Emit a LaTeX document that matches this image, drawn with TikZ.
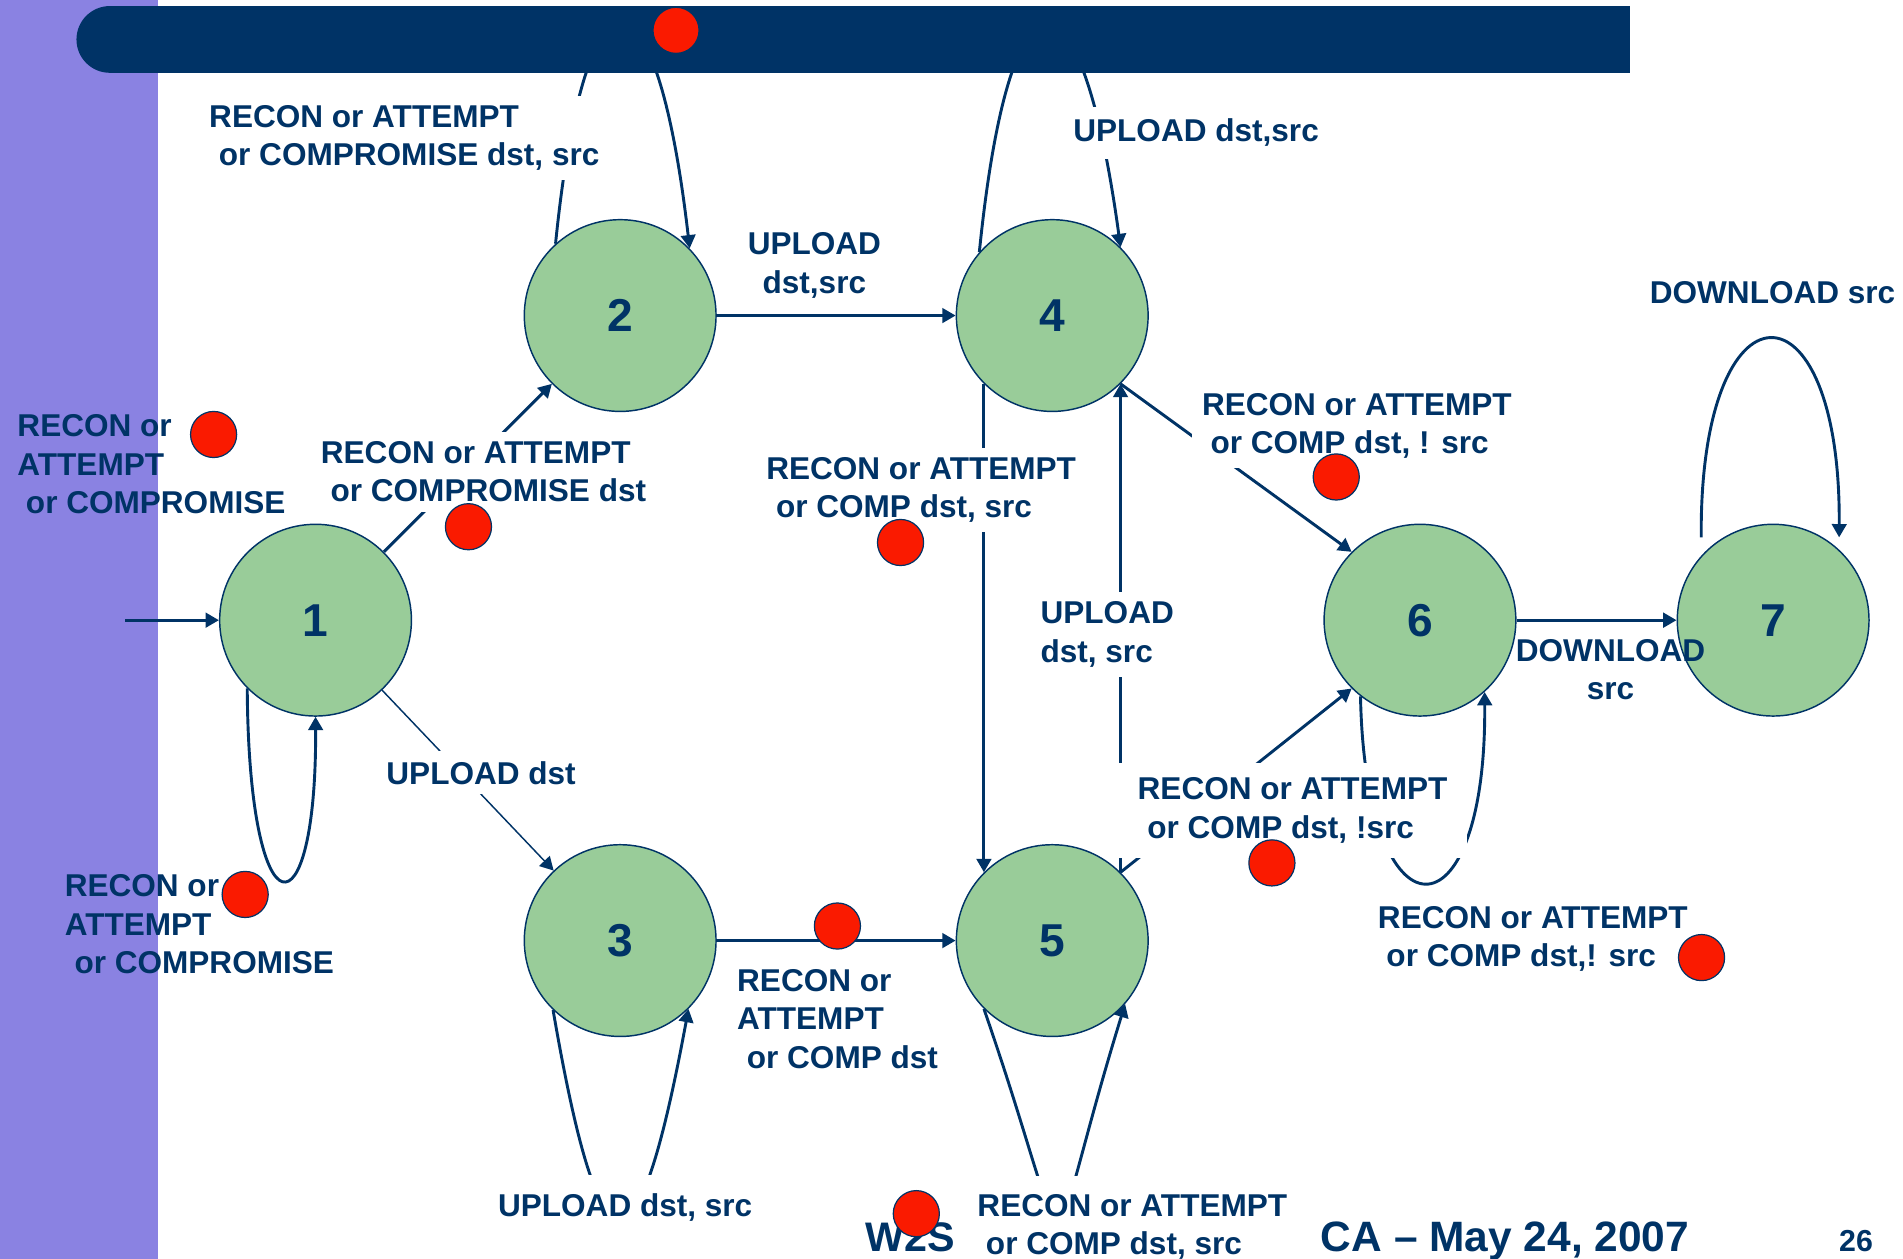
\documentclass[tikz,border=0pt]{standalone}
\usepackage{fontspec}
\setmainfont{Liberation Sans}
\usetikzlibrary{arrows.meta}
\definecolor{navy}{RGB}{0,51,102}
\definecolor{stgreen}{RGB}{153,204,153}
\definecolor{dotred}{RGB}{250,26,0}
\definecolor{band}{RGB}{138,130,226}
\newcommand{\lblfont}{\fontsize{13}{15.8}\selectfont\bfseries}
\begin{document}
\begin{tikzpicture}[x=0.5pt,y=-0.5pt,
  state/.style={circle, draw=navy, line width=0.6pt, fill=stgreen, minimum size=79pt, inner sep=0pt, text=navy, font=\fontsize{19}{19}\selectfont\bfseries},
  edge/.style={draw=navy, line width=1.2pt, -{Triangle[length=5.5pt,width=6pt]}},
  lbl/.style={text=navy, font=\lblfont, align=left, inner sep=0pt, anchor=base west},
  boxed/.style={lbl, fill=white, inner xsep=4pt, inner ysep=4pt},
  reddot/.style={circle, fill=dotred, draw=navy, line width=0.5pt, minimum size=19pt, inner sep=0pt},
  foot/.style={text=navy, inner sep=0pt, anchor=base west}
]
\useasboundingbox (0,0) rectangle (1568,1037);
\fill[band] (0,0) rectangle (130,1037);

% states
\node[state] (n1) at (260,511) {1};
\node[state] (n2) at (511,260) {2};
\node[state] (n3) at (511,775) {3};
\node[state] (n4) at (867,260) {4};
\node[state] (n5) at (867,775) {5};
\node[state] (n6) at (1170,511) {6};
\node[state] (n7) at (1461,511) {7};

% connectors
\coordinate (init) at (103,511);
\draw[edge] (init) -- (n1.west);
\draw[edge] (n1) -- (n2);
\draw[edge, line width=0.6pt] (n1) -- (n3);
\draw[edge] (n2) -- (n4);
\draw[edge] (n3) -- (n5);
\draw[edge] (n6) -- (n7);
\draw[edge] (n4.225) -- (n5.135);
\draw[edge] (n5.45) -- (n4.-45);
\draw[edge] (n4.-45) -- (n6.135);
\draw[edge] (n5.45) -- (n6.225);

% self loops
\draw[edge] (n1.225) .. controls (205,774) and (261,774) .. (n1.270);
\draw[edge] (n2.132) .. controls (482,-40) and (540,-40) .. (n2.44);
\draw[edge] (n4.139) .. controls (832,-40) and (890,-40) .. (n4.45);
\draw[edge] (n3.226) .. controls (495,1060) and (525,1060) .. (n3.-45);
\draw[edge] (n5.225) .. controls (890,1060) and (855,1060) .. (n5.-41);
\draw[edge] (n6.232) .. controls (1125,779) and (1225,779) .. (n6.-48);
\draw[edge, shorten <=7.5pt, shorten >=5pt] (n7.138) .. controls (1400,225) and (1517,225) .. (n7.47);

% labels with white boxes (anchor = baseline of last line)
\node[boxed] (l2) at (256,413.6) {RECON or ATTEMPT\\\hspace*{4pt}or COMPROMISE dst};
\node[boxed] (l3) at (164,136.6) {RECON or ATTEMPT\\\hspace*{4pt}or COMPROMISE dst, src};
\node[boxed, inner ysep=5pt] (l5) at (876,117) {UPLOAD dst,src};
\node[boxed] (l6) at (623,426.6) {RECON or ATTEMPT\\\hspace*{4pt}or COMP dst, src};
\node[boxed] (l7) at (982,373.6) {RECON or ATTEMPT\\\hspace*{3.5pt}or COMP dst, ! src};
\node[boxed] (l9) at (849,545.6) {UPLOAD\\dst, src};
\node[boxed] (l11) at (310,646) {UPLOAD dst};
\node[boxed, inner xsep=8pt, inner ysep=6pt] (l14) at (921,690.6) {RECON or ATTEMPT\\\hspace*{4pt}or COMP dst, !src};
\node[boxed, inner ysep=7.5pt] (l16) at (402,1002) {UPLOAD dst, src};
\node[boxed, inner ysep=7.5pt] (l17) at (797,1033.6) {RECON or ATTEMPT\\\hspace*{3.5pt}or COMP dst, src};

% plain labels
\node[lbl] (l1) at (14,423.2) {RECON or\\ATTEMPT\\\hspace*{3.5pt}or COMPROMISE};
\node[lbl, align=center, anchor=base] (l4) at (671,241.6) {UPLOAD\\dst,src};
\node[lbl] (l8) at (1359,250) {DOWNLOAD src};
\node[lbl, align=center, anchor=base] (l10) at (1327,576.6) {DOWNLOAD\\src};
\node[lbl] (l12) at (53,802.2) {RECON or\\ATTEMPT\\\hspace*{4pt}or COMPROMISE};
\node[lbl] (l13) at (607,880.2) {RECON or\\ATTEMPT\\\hspace*{4pt}or COMP dst};
\node[lbl] (l15) at (1135,796.6) {RECON or ATTEMPT\\\hspace*{3.5pt}or COMP dst,! src};

% top bar
\fill[navy] (90,5) rectangle (1343,60);
\fill[navy] (90.5,32.5) circle[radius=27.5];

% footer
\node[foot, font=\fontsize{17}{17}\selectfont\bfseries] (w2s) at (713,1031) {W2S};
\node[foot, font=\fontsize{17.5}{17.5}\selectfont\bfseries] (date) at (1088,1031) {CA – May 24, 2007};
\node[foot, font=\fontsize{12.5}{12.5}\selectfont\bfseries] (page) at (1515,1031) {26};

% red dots
\node[reddot] (d1) at (557,25) {};
\node[reddot] (d2) at (176,358) {};
\node[reddot] (d3) at (386,434) {};
\node[reddot] (d4) at (742,447) {};
\node[reddot] (d5) at (1101,393) {};
\node[reddot] (d6) at (202,737) {};
\node[reddot] (d7) at (690,763) {};
\node[reddot] (d8) at (1048,711) {};
\node[reddot] (d9) at (1402,789) {};
\node[reddot] (d10) at (755,1000) {};
\end{tikzpicture}
\end{document}
